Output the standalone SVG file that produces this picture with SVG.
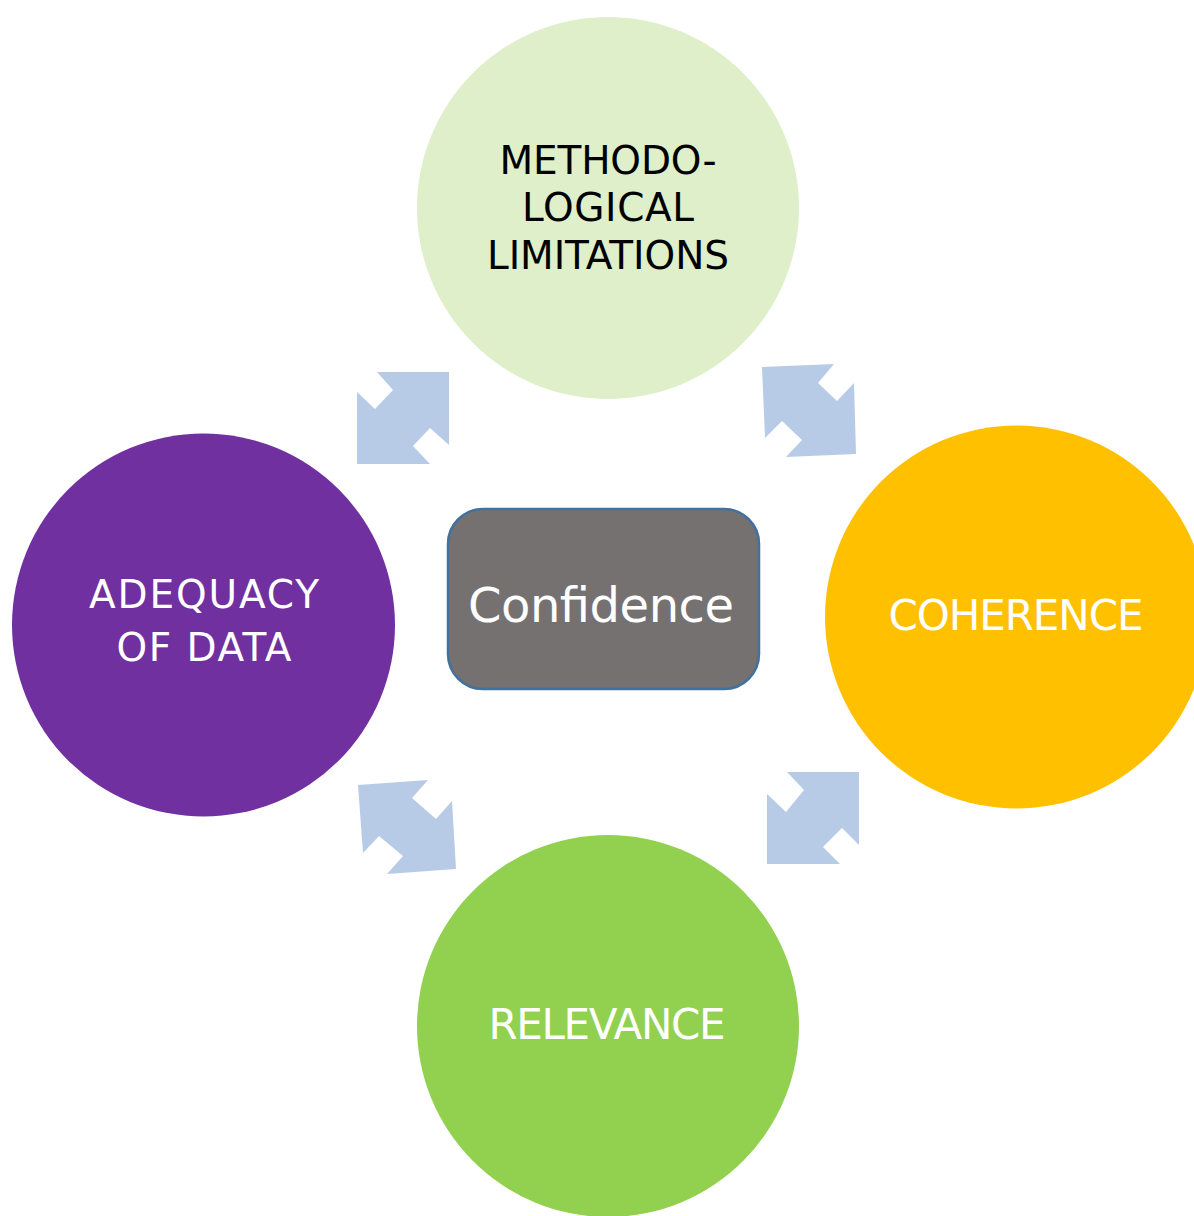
<svg xmlns="http://www.w3.org/2000/svg" width="1194" height="1216" viewBox="0 0 1194 1216">
<style>
.lbl{font-family:"DejaVu Sans","Open Sans",sans-serif;text-anchor:middle}
.arrow{fill:#B7CBE7}
</style>
<rect width="1194" height="1216" fill="#FFFFFF"/>
<g id="connectors">
<polygon class="arrow" points="377,372 449,372 449,445 430,428 413,446 430,464 357,464 357,392 375,409 393,390"/>
<polygon class="arrow" points="762,367 834,364 818,383 837,401 854,383 856,454 786,457 802,440 782,421 765,438"/>
<polygon class="arrow" points="358,785 428,780 412,798 436,819 452,801 456,869 387,874 403,856 379,836 363,853"/>
<polygon class="arrow" points="787,772 859,772 859,845 842,828 823,847 840,864 767,864 767,794 786,812 804,790"/>
</g>
<g id="node-methodological">
<circle cx="608" cy="208" r="191" fill="#DEEFCA"/>
<text class="lbl" font-size="39" fill="#000000"><tspan x="608" y="174" textLength="217">METHODO-</tspan><tspan x="608" y="221" textLength="172">LOGICAL</tspan><tspan x="608" y="269" textLength="242">LIMITATIONS</tspan></text>
</g>
<g id="node-adequacy">
<circle cx="203.5" cy="625" r="191.5" fill="#7030A0"/>
<text class="lbl" font-size="39" fill="#FFFFFF"><tspan x="204" y="608" textLength="230">ADEQUACY</tspan><tspan x="204" y="661" textLength="175">OF DATA</tspan></text>
</g>
<g id="node-coherence">
<circle cx="1016.5" cy="617" r="191.5" fill="#FFC000"/>
<text class="lbl" font-size="42" fill="#FFFFFF" x="1016" y="630" textLength="255">COHERENCE</text>
</g>
<g id="node-relevance">
<circle cx="608" cy="1026" r="191" fill="#92D050"/>
<text class="lbl" font-size="42" fill="#FFFFFF" x="607" y="1039" textLength="237">RELEVANCE</text>
</g>
<g id="node-confidence">
<rect x="448" y="509" width="311" height="180" rx="35" ry="35" fill="#767171" stroke="#41719C" stroke-width="2.5"/>
<text class="lbl" font-size="48" fill="#FFFFFF" x="601" y="622" textLength="266">Confidence</text>
</g>
</svg>
